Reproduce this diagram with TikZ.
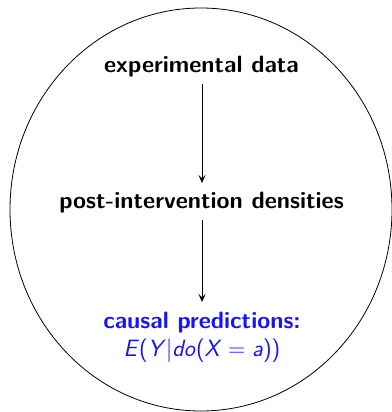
\documentclass[tikz,border=0pt]{standalone}
\usetikzlibrary{arrows.meta,shapes.geometric}
\definecolor{predblue}{RGB}{20,20,245}
\tikzset{
  lbl/.style={font=\fontsize{23.6}{28}\selectfont\sffamily\bfseries, align=center, inner sep=0pt},
  flow/.style={-{Stealth[length=8pt,width=7pt,inset=3.5pt]}, line width=0.9pt},
  frame/.style={line width=0.8pt}
}
\begin{document}
\begin{tikzpicture}[x=1pt,y=-1pt]
\useasboundingbox (0,0) rectangle (391,412);
\node[frame, draw, ellipse, minimum width=382pt, minimum height=403pt, inner sep=0pt] (oval) at (201,209.5) {};
\node[lbl, anchor=base] (exp) at (201.5,72.7) {experimental data};
\node[lbl, anchor=base] (post) at (201.5,208) {post-intervention densities};
\node[lbl, anchor=base, text=predblue] (pred) at (202,328) {causal predictions:};
\node[anchor=base, inner sep=0pt, text=predblue, font=\fontsize{23.6}{28}\selectfont\sffamily] (eq) at (202,356.7)
  {\textit{E}(\textit{Y}|\textit{do}(\textit{X}\;=\;\textit{a}))};
\coordinate (a1s) at (202,84);
\coordinate (a1e) at (202,183);
\coordinate (a2s) at (202,220);
\coordinate (a2e) at (202,302);
\draw[flow] (a1s) -- (a1e);
\draw[flow] (a2s) -- (a2e);
\end{tikzpicture}
\end{document}
